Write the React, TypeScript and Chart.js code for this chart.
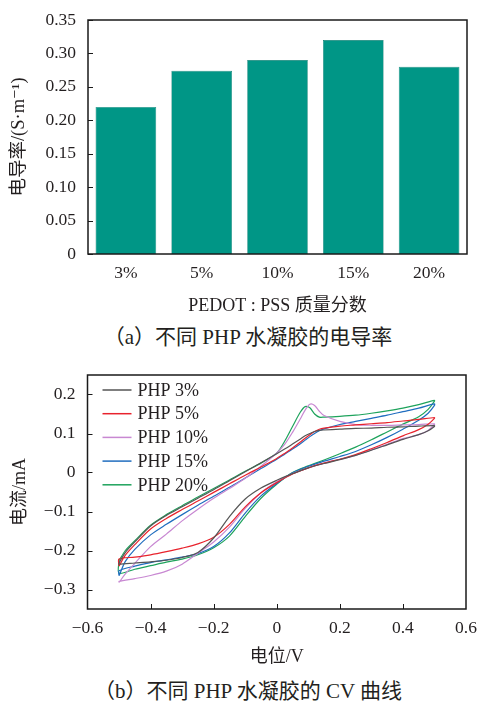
import React, { useEffect, useRef } from 'react';
import { Chart, registerables } from 'chart.js';

Chart.register(...registerables);

const FONT = '"Liberation Serif", "DejaVu Serif", "Noto Sans CJK SC", serif';
const TEXT = '#231f20';

// ---------- (a) bar chart data ----------
const barCategories = ['3%', '5%', '10%', '15%', '20%'];
const barValues = [0.22, 0.274, 0.29, 0.32, 0.28];
const barYTicks = [0, 0.05, 0.1, 0.15, 0.2, 0.25, 0.3, 0.35];
const barXTitle = 'PEDOT : PSS 质量分数';
const barYTitle = '电导率/(S·m⁻¹)';
const captionA = '（a）不同 PHP 水凝胶的电导率';

// ---------- (b) CV data ----------
const cvXTicks = [-0.6, -0.4, -0.2, 0, 0.2, 0.4, 0.6];
const cvYTicks = [-0.3, -0.2, -0.1, 0, 0.1, 0.2];
const cvXTitle = '电位/V';
const cvYTitle = '电流/mA';
const captionB = '（b）不同 PHP 水凝胶的 CV 曲线';

const cvLabels = ['PHP 3%', 'PHP 5%', 'PHP 10%', 'PHP 15%', 'PHP 20%'];
const cvColors = ['#555555', '#e8232d', '#c888d2', '#1f6dbf', '#1ea35c'];

// forward scan potentials (V)
const cvFwdX = [-0.5, -0.48, -0.45, -0.4, -0.35, -0.3, -0.25, -0.2, -0.15, -0.1, -0.05, 0, 0.025, 0.05, 0.075, 0.09, 0.105, 0.12, 0.135, 0.15, 0.2, 0.25, 0.3, 0.35, 0.4, 0.45, 0.5];
// reverse scan potentials (V)
const cvRevX = [0.5, 0.48, 0.45, 0.4, 0.35, 0.3, 0.25, 0.2, 0.15, 0.1, 0.05, 0, -0.05, -0.1, -0.15, -0.2, -0.25, -0.3, -0.35, -0.4, -0.45, -0.5];

const php3Fwd = [-0.232, -0.205, -0.178, -0.137, -0.11, -0.088, -0.066, -0.044, -0.021, 0.002, 0.025, 0.048, 0.06, 0.073, 0.086, 0.094, 0.1, 0.105, 0.108, 0.109, 0.111, 0.113, 0.114, 0.116, 0.117, 0.119, 0.12];
const php3Rev = [0.118, 0.107, 0.097, 0.085, 0.071, 0.057, 0.044, 0.033, 0.023, 0.012, -0.003, -0.02, -0.04, -0.068, -0.113, -0.168, -0.205, -0.218, -0.225, -0.229, -0.232, -0.235];

const php5Fwd = [-0.24, -0.212, -0.185, -0.145, -0.118, -0.095, -0.073, -0.051, -0.029, -0.007, 0.014, 0.036, 0.049, 0.063, 0.078, 0.088, 0.097, 0.105, 0.111, 0.114, 0.119, 0.122, 0.125, 0.128, 0.132, 0.136, 0.141];
const php5Rev = [0.139, 0.124, 0.11, 0.094, 0.077, 0.061, 0.046, 0.034, 0.024, 0.012, -0.004, -0.026, -0.052, -0.088, -0.133, -0.166, -0.183, -0.194, -0.203, -0.211, -0.217, -0.222];

const php10Fwd = [-0.282, -0.26, -0.233, -0.19, -0.158, -0.124, -0.094, -0.066, -0.041, -0.015, 0.016, 0.05, 0.072, 0.103, 0.138, 0.16, 0.175, 0.172, 0.157, 0.146, 0.131, 0.123, 0.121, 0.121, 0.122, 0.123, 0.125];
const php10Rev = [0.123, 0.108, 0.097, 0.087, 0.072, 0.058, 0.044, 0.034, 0.024, 0.012, -0.003, -0.024, -0.052, -0.092, -0.14, -0.178, -0.207, -0.235, -0.253, -0.264, -0.272, -0.279];

const php15Fwd = [-0.265, -0.228, -0.197, -0.16, -0.133, -0.108, -0.084, -0.061, -0.038, -0.014, 0.01, 0.034, 0.047, 0.06, 0.074, 0.083, 0.092, 0.1, 0.107, 0.112, 0.123, 0.131, 0.139, 0.147, 0.156, 0.165, 0.176];
const php15Rev = [0.172, 0.152, 0.134, 0.111, 0.09, 0.071, 0.054, 0.041, 0.029, 0.016, -0.001, -0.028, -0.06, -0.104, -0.155, -0.19, -0.208, -0.217, -0.224, -0.231, -0.24, -0.252];

const php20Fwd = [-0.226, -0.2, -0.175, -0.135, -0.108, -0.085, -0.063, -0.041, -0.019, 0.003, 0.024, 0.05, 0.08, 0.118, 0.155, 0.169, 0.166, 0.15, 0.142, 0.142, 0.144, 0.147, 0.152, 0.158, 0.165, 0.174, 0.185];
const php20Rev = [0.183, 0.162, 0.143, 0.124, 0.104, 0.084, 0.065, 0.048, 0.032, 0.017, 0, -0.03, -0.066, -0.113, -0.163, -0.193, -0.211, -0.222, -0.23, -0.239, -0.248, -0.258];

const cvFwdSeries = [php3Fwd, php5Fwd, php10Fwd, php15Fwd, php20Fwd];
const cvRevSeries = [php3Rev, php5Rev, php10Rev, php15Rev, php20Rev];

const fmtMinus = (v: number, d: number) => {
  if (Math.abs(v) < 1e-9) return '0';
  return (v < 0 ? '\u2212' : '') + Math.abs(v).toFixed(d);
};

const frameTicksPlugin = {
  id: 'frameTicks',
  afterDatasetsDraw(chart: any, _args: any, opts: any) {
    const { ctx, chartArea: a } = chart;
    ctx.save();
    ctx.strokeStyle = '#1a1a1a';
    ctx.lineWidth = 1;
    if (opts.yTicks) {
      const s = chart.scales.y;
      for (const v of opts.yTicks) {
        const py = Math.round(s.getPixelForValue(v)) + 0.5;
        ctx.beginPath();
        ctx.moveTo(a.left, py);
        ctx.lineTo(a.left + 5, py);
        ctx.stroke();
      }
    }
    if (opts.xTicks) {
      const s = chart.scales.x;
      for (const v of opts.xTicks) {
        const px = Math.round(s.getPixelForValue(v)) + 0.5;
        ctx.beginPath();
        ctx.moveTo(px, a.bottom);
        ctx.lineTo(px, a.bottom - 5);
        ctx.stroke();
      }
    }
    ctx.lineWidth = 1.5;
    ctx.strokeRect(a.left, a.top, a.right - a.left, a.bottom - a.top);
    ctx.restore();
  },
};

const cvLegendPlugin = {
  id: 'cvLegend',
  afterDraw(chart: any) {
    const { ctx, chartArea: a } = chart;
    ctx.save();
    ctx.font = `18px ${FONT}`;
    ctx.textBaseline = 'middle';
    ctx.textAlign = 'left';
    chart.data.datasets.forEach((ds: any, i: number) => {
      const y = a.top + 15 + i * 23.7;
      ctx.strokeStyle = ds.borderColor;
      ctx.lineWidth = 1.5;
      ctx.beginPath();
      ctx.moveTo(a.left + 15, y);
      ctx.lineTo(a.left + 44, y);
      ctx.stroke();
      ctx.fillStyle = TEXT;
      ctx.fillText(ds.label, a.left + 50, y + 1);
    });
    ctx.restore();
  },
};

function BarChart() {
  const ref = useRef<HTMLCanvasElement>(null);
  useEffect(() => {
    const chart = new Chart(ref.current as HTMLCanvasElement, {
      type: 'bar',
      data: {
        labels: barCategories,
        datasets: [
          {
            data: barValues,
            backgroundColor: '#009686',
            borderColor: '#0d7a6e',
            borderWidth: 0.6,
            barPercentage: 0.8,
            categoryPercentage: 1,
          },
        ],
      },
      options: {
        responsive: false,
        devicePixelRatio: 1,
        animation: false,
        layout: { padding: { left: 0, top: 20, right: 12, bottom: 0 } },
        plugins: {
          legend: { display: false },
          tooltip: { enabled: false },
          frameTicks: { yTicks: barYTicks },
        } as any,
        scales: {
          x: {
            grid: { display: false },
            border: { display: false },
            ticks: { color: TEXT, font: { family: FONT, size: 17.5 }, padding: 1 },
            title: {
              display: true,
              text: barXTitle,
              color: TEXT,
              font: { family: FONT, size: 18 },
              padding: { top: 0, bottom: 3 },
            },
            afterFit: (s: any) => {
              s.height = 66;
            },
          },
          y: {
            min: 0,
            max: 0.35,
            grid: { display: false },
            border: { display: false },
            afterBuildTicks: (s: any) => {
              s.ticks = barYTicks.map((v) => ({ value: v }));
            },
            ticks: {
              color: TEXT,
              font: { family: FONT, size: 17.5 },
              padding: 4,
              callback: (v: any) => (Number(v) === 0 ? '0' : Number(v).toFixed(2)),
            },
            title: {
              display: true,
              text: barYTitle,
              color: TEXT,
              font: { family: FONT, size: 18.5 },
              padding: { top: 8, bottom: 0 },
            },
            afterFit: (s: any) => {
              s.width = 88;
            },
          },
        },
      },
      plugins: [frameTicksPlugin],
    });
    return () => chart.destroy();
  }, []);
  return <canvas ref={ref} width={479} height={320} style={{ position: 'absolute', left: 0, top: 0, width: 479, height: 320 }} />;
}

function CvChart() {
  const ref = useRef<HTMLCanvasElement>(null);
  useEffect(() => {
    const datasets = cvLabels.map((label, i) => {
      const pts = [
        ...cvFwdX.map((x, j) => ({ x, y: cvFwdSeries[i][j] })),
        ...cvRevX.map((x, j) => ({ x, y: cvRevSeries[i][j] })),
        { x: cvFwdX[0], y: cvFwdSeries[i][0] },
      ];
      return {
        label,
        data: pts,
        showLine: true,
        borderColor: cvColors[i],
        backgroundColor: cvColors[i],
        borderWidth: 1.2,
        pointRadius: 0,
        tension: 0.3,
        fill: false,
      };
    });
    const chart = new Chart(ref.current as HTMLCanvasElement, {
      type: 'scatter',
      data: { datasets },
      options: {
        responsive: false,
        devicePixelRatio: 1,
        animation: false,
        layout: { padding: { left: 0, top: 15, right: 13, bottom: 0 } },
        plugins: {
          legend: { display: false },
          tooltip: { enabled: false },
          frameTicks: { yTicks: cvYTicks, xTicks: cvXTicks.slice(1, -1) },
        } as any,
        scales: {
          x: {
            type: 'linear',
            min: -0.6,
            max: 0.6,
            grid: { display: false },
            border: { display: false },
            afterBuildTicks: (s: any) => {
              s.ticks = cvXTicks.map((v) => ({ value: v }));
            },
            ticks: {
              color: TEXT,
              font: { family: FONT, size: 17.5 },
              padding: 1,
              callback: (v: any) => fmtMinus(Number(v), 1),
            },
            title: {
              display: true,
              text: cvXTitle,
              color: TEXT,
              font: { family: FONT, size: 18 },
              padding: { top: 0, bottom: 2 },
            },
            afterFit: (s: any) => {
              s.height = 61;
            },
          },
          y: {
            type: 'linear',
            min: -0.35,
            max: 0.25,
            grid: { display: false },
            border: { display: false },
            afterBuildTicks: (s: any) => {
              s.ticks = cvYTicks.map((v) => ({ value: v }));
            },
            ticks: {
              color: TEXT,
              font: { family: FONT, size: 17.5 },
              padding: 4,
              callback: (v: any) => fmtMinus(Number(v), 1),
            },
            title: {
              display: true,
              text: cvYTitle,
              color: TEXT,
              font: { family: FONT, size: 18 },
              padding: { top: 9, bottom: 0 },
            },
            afterFit: (s: any) => {
              s.width = 87.5;
            },
          },
        },
      },
      plugins: [frameTicksPlugin, cvLegendPlugin],
    });
    return () => chart.destroy();
  }, []);
  return <canvas ref={ref} width={479} height={310} style={{ position: 'absolute', left: 0, top: 360, width: 479, height: 310 }} />;
}

const captionStyle = (top: number): React.CSSProperties => ({
  position: 'absolute',
  left: 248,
  top,
  transform: 'translateX(-50%)',
  whiteSpace: 'nowrap',
  fontFamily: FONT,
  fontSize: 21,
  lineHeight: '22px',
  color: TEXT,
});

export default function App() {
  return (
    <div style={{ position: 'absolute', left: 0, top: 0, width: 479, height: 701, background: '#fff', overflow: 'hidden' }}>
      <BarChart />
      <div style={captionStyle(326)}>{captionA}</div>
      <CvChart />
      <div style={captionStyle(680)}>{captionB}</div>
    </div>
  );
}
